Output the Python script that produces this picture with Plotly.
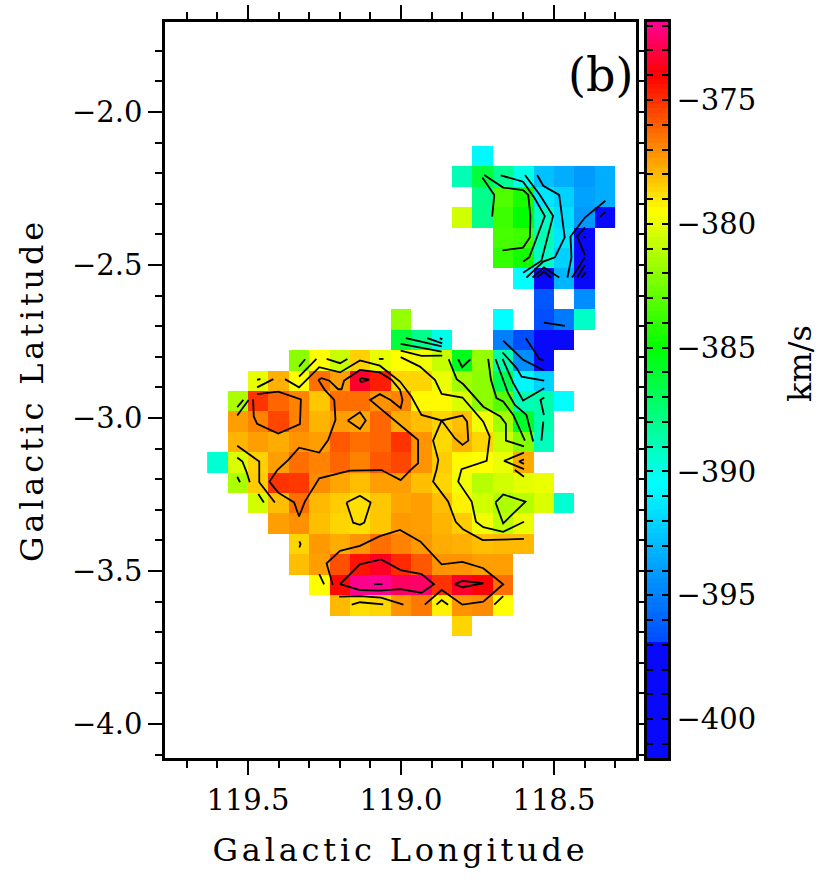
import numpy as np
import plotly.graph_objects as go

_ = None
# Velocity (km/s) on a 20 x 24 grid, north at top, longitude decreasing to the right
velocity = [
 [_,_,_,_,_,_,_,_,_,_,_,_,_,-390.7,_,_,_,_,_,_],
 [_,_,_,_,_,_,_,_,_,_,_,_,-388.9,-386.3,-388.2,-390.0,-392.7,-393.4,-394.1,-393.4],
 [_,_,_,_,_,_,_,_,_,_,_,_,_,-388.0,-383.3,-384.5,-391.4,-392.1,-393.8,-393.4],
 [_,_,_,_,_,_,_,_,_,_,_,_,-380.5,-388.0,-383.7,-385.0,-389.3,-391.7,-394.1,-398.0],
 [_,_,_,_,_,_,_,_,_,_,_,_,_,_,-383.5,-383.7,-388.9,-391.4,-398.0,_],
 [_,_,_,_,_,_,_,_,_,_,_,_,_,_,-383.9,-384.6,-389.3,-392.1,-397.0,_],
 [_,_,_,_,_,_,_,_,_,_,_,_,_,_,_,-390.5,-398.5,-393.1,-398.0,_],
 [_,_,_,_,_,_,_,_,_,_,_,_,_,_,_,_,-396.5,_,-394.5,_],
 [_,_,_,_,_,_,_,_,_,-381.8,_,_,_,_,-390.5,_,-396.8,-395.2,-389.3,_],
 [_,_,_,_,_,_,_,_,_,-386.3,-388.0,-390.0,_,_,-395.0,-396.8,-399.0,-399.0,_,_],
 [_,_,_,_,-382.0,-379.5,-380.7,-378.5,-380.0,-379.5,-379.8,-380.7,-385.6,-381.8,-388.7,-394.5,-398.0,_,_,_],
 [_,_,-380.0,-377.8,-379.5,-376.4,-377.4,-373.4,-374.6,-378.6,-378.6,-379.9,-381.5,-382.0,-386.7,-390.8,-392.1,_,_,_],
 [_,-381.3,-375.1,-376.2,-376.8,-378.3,-376.4,-376.4,-377.2,-376.8,-379.4,-379.4,-380.3,-382.0,-383.1,-388.9,-388.7,-390.5,_,_],
 [_,-377.4,-376.8,-375.5,-376.8,-377.9,-377.4,-377.6,-376.2,-377.7,-378.1,-378.6,-378.1,-379.8,-381.5,-385.9,-388.7,_,_,_],
 [_,-377.9,-377.4,-377.7,-377.2,-377.4,-375.9,-376.4,-376.2,-375.1,-377.2,-378.7,-377.9,-378.6,-380.7,-382.2,-389.1,_,_,_],
 [-389.5,-380.3,-378.5,-377.4,-376.4,-376.8,-376.2,-376.8,-375.9,-375.5,-377.2,-378.4,-379.4,-379.5,-379.9,-377.7,_,_,_,_],
 [_,-381.3,-378.4,-375.1,-375.2,-377.0,-377.6,-378.1,-377.4,-377.4,-378.1,-378.6,-379.8,-381.1,-380.5,-380.1,-379.9,_,_,_],
 [_,_,-380.5,-378.1,-376.4,-378.0,-378.4,-378.8,-378.3,-377.6,-377.4,-378.1,-379.2,-380.5,-381.3,-381.1,-380.3,-389.5,_,_],
 [_,_,_,-377.4,-377.1,-378.1,-378.6,-378.8,-378.3,-377.3,-377.4,-377.9,-378.4,-379.8,-380.9,-379.9,_,_,_,_],
 [_,_,_,_,-378.6,-377.3,-377.7,-377.2,-376.4,-376.8,-377.3,-377.7,-377.8,-378.1,-378.0,-378.0,_,_,_,_],
 [_,_,_,_,-378.1,-377.4,-375.7,-374.4,-373.5,-374.9,-375.9,-377.2,-377.2,-377.4,-377.4,_,_,_,_,_],
 [_,_,_,_,_,-379.5,-374.2,-372.0,-371.9,-372.6,-372.5,-375.1,-373.4,-373.9,-376.4,_,_,_,_,_],
 [_,_,_,_,_,_,-378.0,-378.8,-378.6,-377.2,-376.6,-379.2,-377.2,-377.0,-379.5,_,_,_,_,_],
 [_,_,_,_,_,_,_,_,_,_,_,_,-378.6,_,_,_,_,_,_,_],
]
cell_size = 1 / 15
first_lon = 119.6
first_lat = -2.1445

# Contour polylines, (galactic longitude, galactic latitude)
contour_paths = [
 [(119.270,-2.875),(119.259,-2.870),(119.234,-2.878),(119.205,-2.906),(119.194,-2.906),(119.186,-2.878),(119.134,-2.843),(119.069,-2.851),(119.031,-2.875),(119.003,-2.908),(118.995,-2.941),(119.001,-2.968),(119.034,-2.941),(119.069,-2.922),(119.101,-2.941),(119.003,-3.022),(118.944,-3.072),(118.944,-3.148),(118.969,-3.170),(119.001,-3.203),(119.036,-3.186),(119.064,-3.170),(119.167,-3.172),(119.267,-3.197),(119.314,-3.273),(119.333,-3.322),(119.349,-3.276),(119.401,-3.244),(119.430,-3.208),(119.404,-3.170),(119.368,-3.137),(119.333,-3.097),(119.267,-3.113),(119.238,-3.072),(119.214,-3.006),(119.218,-2.941),(119.249,-2.908),(119.270,-2.875)],
 [(119.379,-2.873),(119.333,-2.900),(119.267,-2.834),(119.199,-2.851),(119.134,-2.812),(119.069,-2.829),(119.003,-2.881),(118.966,-2.930),(118.933,-2.990),(118.867,-3.008),(118.799,-2.992),(118.784,-3.012),(118.780,-3.074),(118.799,-3.088),(118.824,-3.066),(118.867,-3.008),(118.895,-3.074),(118.878,-3.137),(118.884,-3.170),(118.895,-3.208),(118.846,-3.273),(118.821,-3.339),(118.797,-3.364),(118.733,-3.399),(118.598,-3.395)],
 [(119.001,-2.801),(118.938,-2.832),(118.889,-2.875),(118.867,-2.921),(118.799,-2.933),(118.731,-3.012),(118.710,-3.061),(118.720,-3.140),(118.802,-3.167),(118.813,-3.208),(118.769,-3.273),(118.755,-3.339),(118.731,-3.357),(118.666,-3.372),(118.598,-3.339)],
 [(118.844,-2.808),(118.818,-2.873),(118.797,-2.889),(118.731,-2.963),(118.675,-2.995),(118.657,-3.019),(118.657,-3.074),(118.598,-3.093)],
 [(118.813,-2.808),(118.800,-2.834),(118.773,-2.808)],
 [(118.984,-2.739),(118.867,-2.766)],
 [(118.914,-2.739),(118.865,-2.756)],
 [(118.873,-2.739),(118.865,-2.743)],
 [(119.001,-2.758),(118.867,-2.783)],
 [(119.001,-2.780),(118.933,-2.797),(118.865,-2.796)],
 [(118.715,-2.807),(118.706,-2.875),(118.688,-2.935),(118.666,-2.946),(118.633,-2.990),(118.595,-3.074)],
 [(118.691,-2.807),(118.650,-2.919),(118.628,-2.957),(118.590,-2.990),(118.568,-3.077)],
 [(118.668,-2.807),(118.633,-2.886),(118.601,-2.943),(118.532,-2.903)],
 [(118.668,-2.786),(118.622,-2.837),(118.606,-2.865),(118.532,-2.878)],
 [(118.666,-2.747),(118.601,-2.810),(118.532,-2.845)],
 [(118.592,-2.739),(118.548,-2.807),(118.532,-2.812)],
 [(118.533,-2.688),(118.464,-2.699)],
 [(118.532,-2.933),(118.544,-2.941),(118.533,-2.990)],
 [(118.535,-3.012),(118.541,-3.074)],
 [(118.598,-3.113),(118.663,-3.140),(118.598,-3.167)],
 [(118.598,-3.135),(118.614,-3.142),(118.598,-3.150)],
 [(118.628,-3.170),(118.598,-3.192)],
 [(118.691,-3.276),(118.666,-3.250),(118.593,-3.273),(118.666,-3.344),(118.691,-3.276)],
 [(119.199,-3.543),(119.134,-3.478),(119.065,-3.462),(119.001,-3.497),(118.933,-3.510),(118.892,-3.543),(118.933,-3.571),(119.001,-3.559),(119.069,-3.564),(119.134,-3.562),(119.199,-3.543)],
 [(119.088,-3.543),(119.060,-3.543)],
 [(119.223,-3.546),(119.243,-3.475),(119.199,-3.434),(119.134,-3.418),(119.069,-3.386),(119.003,-3.366),(118.936,-3.404),(118.867,-3.478),(118.799,-3.470),(118.731,-3.491),(118.666,-3.543),(118.731,-3.600),(118.799,-3.610),(118.867,-3.562),(118.922,-3.610)],
 [(118.824,-3.543),(118.799,-3.532),(118.731,-3.540),(118.799,-3.553),(118.824,-3.543)],
 [(119.202,-3.584),(119.134,-3.582),(119.065,-3.587),(118.992,-3.610)],
 [(119.161,-3.610),(119.134,-3.602),(119.058,-3.609)],
 [(118.884,-3.610),(118.867,-3.595),(118.846,-3.610)],
 [(118.695,-3.610),(118.666,-3.582)],
 [(119.267,-3.510),(119.251,-3.544)],
 [(119.332,-3.403),(119.328,-3.412),(119.332,-3.423)],
 [(119.178,-3.276),(119.134,-3.254),(119.099,-3.276),(119.120,-3.342),(119.134,-3.349),(119.156,-3.342),(119.178,-3.276)],
 [(119.466,-3.248),(119.448,-3.276)],
 [(119.535,-3.091),(119.463,-3.142),(119.463,-3.210),(119.412,-3.276)],
 [(119.535,-3.129),(119.518,-3.142),(119.505,-3.175),(119.494,-3.210)],
 [(119.535,-3.192),(119.526,-3.210)],
 [(119.535,-2.965),(119.515,-2.941)],
 [(119.535,-2.992),(119.498,-2.941)],
 [(119.470,-2.900),(119.417,-2.873)],
 [(119.470,-2.875),(119.459,-2.873)],
 [(119.470,-2.922),(119.401,-2.914),(119.327,-2.939),(119.330,-3.020),(119.401,-3.051),(119.470,-3.019),(119.481,-2.995),(119.483,-2.939)],
 [(119.174,-3.008),(119.134,-2.981),(119.115,-3.008),(119.134,-3.036),(119.174,-3.008)],
 [(119.136,-2.875),(119.129,-2.870),(119.104,-2.875),(119.129,-2.883),(119.136,-2.875)],
 [(119.333,-2.832),(119.313,-2.808)],
 [(119.333,-2.865),(119.276,-2.807)],
 [(119.243,-2.807),(119.199,-2.821),(119.175,-2.807)],
 [(119.072,-2.807),(119.057,-2.807)],
 [(118.734,-2.214),(118.695,-2.271),(118.702,-2.342)],
 [(118.728,-2.206),(118.666,-2.247),(118.601,-2.255),(118.584,-2.271),(118.577,-2.342),(118.579,-2.410),(118.601,-2.443),(118.668,-2.452)],
 [(118.674,-2.207),(118.601,-2.228),(118.563,-2.282),(118.530,-2.340),(118.563,-2.429),(118.581,-2.475),(118.601,-2.489)],
 [(118.595,-2.206),(118.546,-2.271),(118.503,-2.340),(118.530,-2.440),(118.541,-2.486),(118.601,-2.525)],
 [(118.555,-2.206),(118.535,-2.241),(118.483,-2.271),(118.465,-2.410),(118.497,-2.475),(118.535,-2.489),(118.590,-2.541)],
 [(118.570,-2.541),(118.533,-2.508),(118.483,-2.541)],
 [(118.555,-2.541),(118.533,-2.522),(118.510,-2.541)],
 [(118.456,-2.541),(118.443,-2.475),(118.446,-2.407),(118.399,-2.345),(118.332,-2.290)],
 [(118.350,-2.342),(118.332,-2.327)],
 [(118.399,-2.377),(118.424,-2.407),(118.399,-2.467)],
 [(118.402,-2.407),(118.399,-2.412)],
 [(118.441,-2.541),(118.399,-2.475)],
 [(118.424,-2.541),(118.399,-2.500)],
 [(118.410,-2.541),(118.397,-2.524)],
]

vmin, vmax = -401.57, -371.85
lon_range = [119.771, 118.232]
lat_range = [-4.111, -1.706]
label = "(b)"
def n(v): return (v - vmin) / (vmax - vmin)
colorscale = [
 [0.0, "rgb(8,8,250)"], [n(-396.9), "rgb(8,8,250)"], [n(-396.89), "rgb(0,75,255)"],
 [n(-390.5), "rgb(0,255,255)"], [n(-385), "rgb(0,255,0)"], [n(-379.5), "rgb(255,255,0)"],
 [n(-374), "rgb(255,0,0)"], [1.0, "rgb(255,0,150)"],
]

W, H = 830, 882
FONT = "DejaVu Serif"
lon_path, lat_path = [], []
for path in contour_paths:
    lon_path += [p[0] for p in path] + [None]
    lat_path += [p[1] for p in path] + [None]

fig = go.Figure()
fig.add_trace(go.Heatmap(z=velocity, x0=first_lon, dx=-cell_size, y0=first_lat, dy=-cell_size,
    colorscale=colorscale, zmin=vmin, zmax=vmax, showscale=False, hoverongaps=False, xgap=0, ygap=0))
fig.add_trace(go.Scatter(x=lon_path, y=lat_path, mode="lines", line=dict(color="black", width=1.8),
    connectgaps=False, showlegend=False, hoverinfo="skip"))

ramp = np.linspace(vmin, vmax, 150)
fig.add_trace(go.Heatmap(z=[[v, v] for v in ramp], x=[0, 1], y=ramp, xaxis="x2", yaxis="y2",
    colorscale=colorscale, zmin=vmin, zmax=vmax, showscale=False, hoverinfo="skip"))

px_dom = [165 / W, 636 / W]
py_dom = [(H - 758) / H, (H - 22) / H]
tick = dict(color="black", family=FONT, size=29)
title_font = dict(color="black", family=FONT, size=32)
fig.update_layout(
    width=W, height=H, margin=dict(l=0, r=0, t=0, b=0), paper_bgcolor="white", plot_bgcolor="white",
    showlegend=False,
    xaxis=dict(domain=px_dom, range=lon_range, anchor="y", dtick=0.5, tick0=119, ticks="outside", ticklen=14, tickwidth=1.5,
        tickcolor="black", tickformat=".1f", tickfont=tick, showgrid=False, zeroline=False, showline=True, linecolor="black",
        linewidth=2.5, mirror="allticks",
        minor=dict(dtick=0.1, tick0=119, ticks="outside", ticklen=7, tickwidth=1.5, tickcolor="black", showgrid=False),
        title=dict(text="Galactic Longitude", font=title_font, standoff=24)),
    yaxis=dict(domain=py_dom, range=lat_range, anchor="x", dtick=0.5, tick0=-2, ticks="outside", ticklen=14, tickwidth=1.5,
        tickcolor="black", tickformat=".1f", tickfont=tick, showgrid=False, zeroline=False, showline=True, linecolor="black",
        linewidth=2.5, mirror="allticks",
        minor=dict(dtick=0.1, tick0=-2, ticks="outside", ticklen=7, tickwidth=1.5, tickcolor="black", showgrid=False),
        title=dict(text="Galactic Latitude", font=title_font, standoff=19)),
    xaxis2=dict(domain=[647 / W, 668 / W], range=[0, 1], anchor="y2", showticklabels=False, ticks="", showgrid=False,
        zeroline=False, showline=True, linecolor="black", linewidth=2.5, mirror=True),
    yaxis2=dict(domain=py_dom, range=[vmin, vmax], anchor="x2", side="right", dtick=5, tick0=-400, ticks="inside", ticklen=6,
        tickwidth=2, tickcolor="black", tickfont=tick, tickformat="d", showgrid=False, zeroline=False, showline=True,
        linecolor="black", linewidth=2.5, mirror="allticks",
        minor=dict(dtick=1, tick0=-400, ticks="inside", ticklen=6, tickwidth=2, tickcolor="black", showgrid=False)),
    annotations=[
        dict(text=label, x=600 / W, y=(H - 75) / H, xref="paper", yref="paper", showarrow=False, xanchor="center", yanchor="middle",
             font=dict(color="black", family=FONT, size=46)),
        dict(text="km/s", x=800 / W, y=(H - 364) / H, xref="paper", yref="paper", showarrow=False, textangle=-90,
             xanchor="center", yanchor="middle", font=title_font),
    ],
)
post = ("document.body.style.margin='0';"
        "document.querySelectorAll('.xtitle,.ytitle').forEach(function(t){t.style.letterSpacing='3.8px';});")
fig.write_html("out.html", post_script=post, config=dict(displayModeBar=False))
